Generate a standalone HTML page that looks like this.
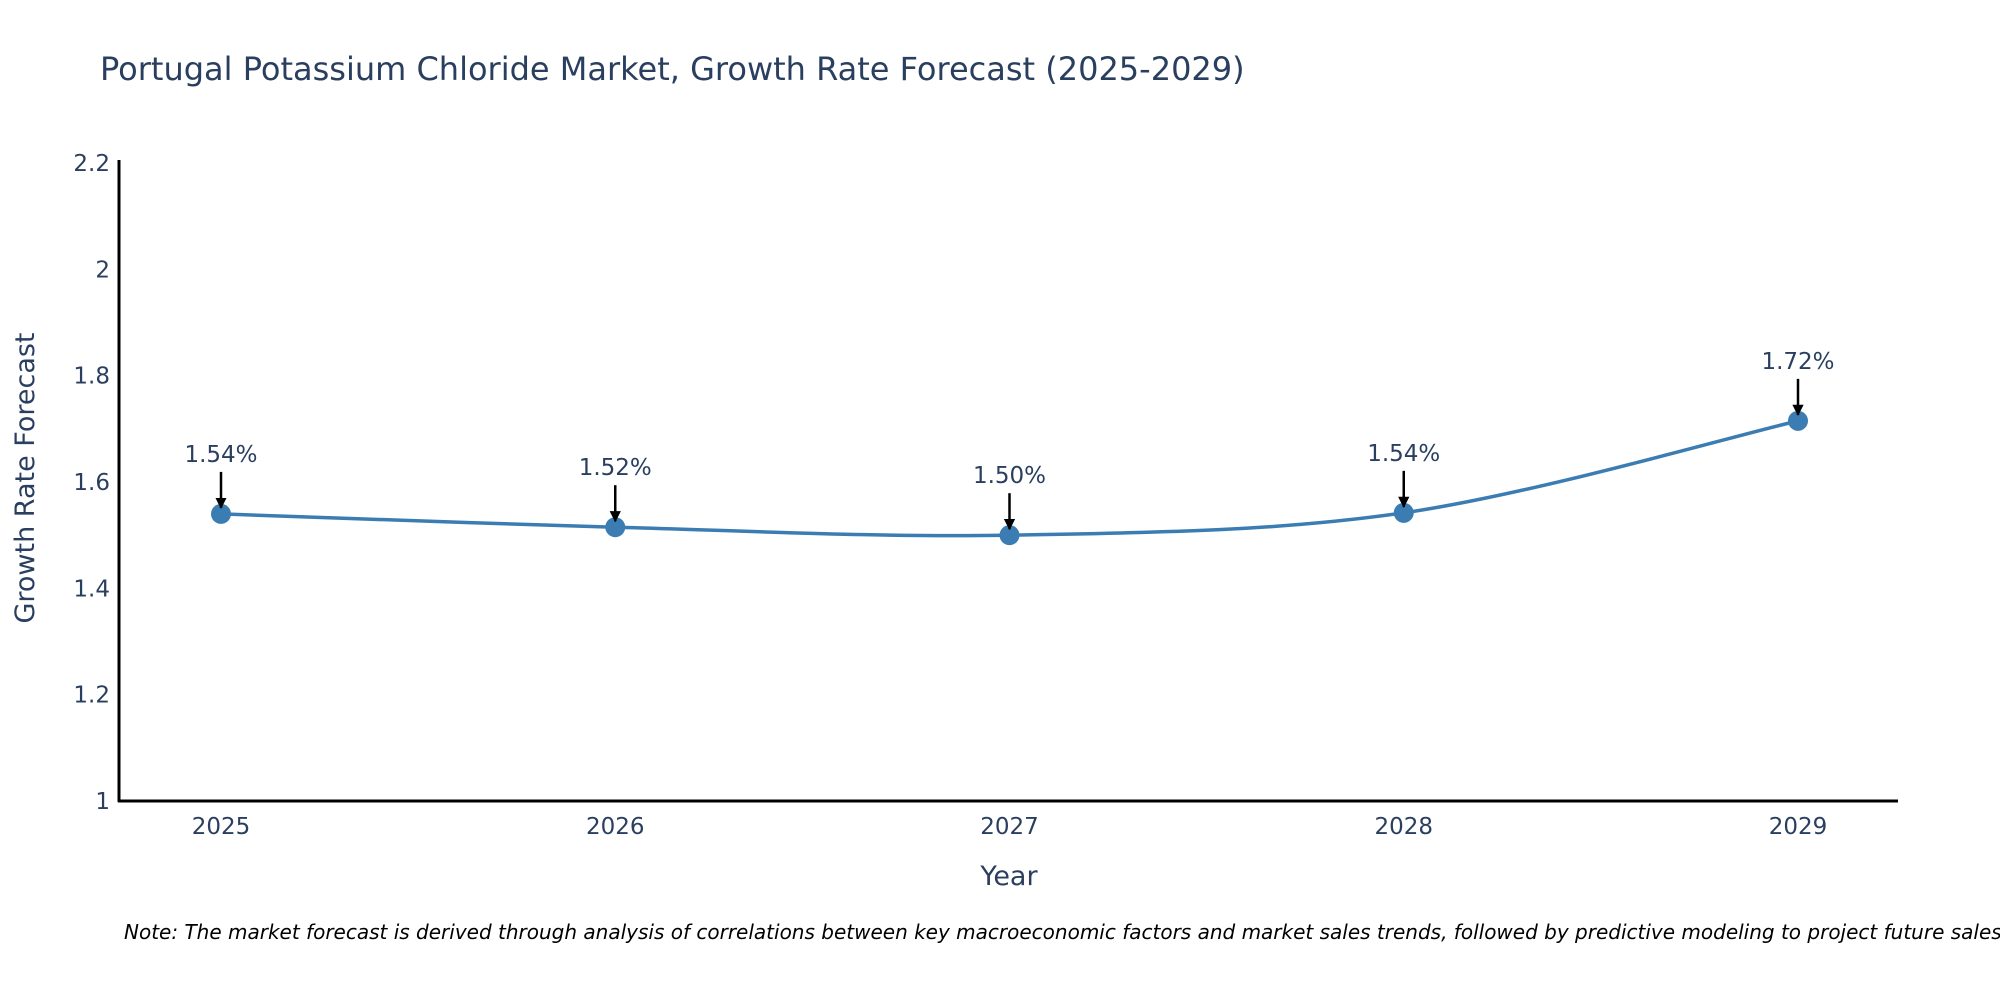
<!DOCTYPE html>
<html><head><meta charset="utf-8">
<style>
html,body{margin:0;padding:0;background:#fff;}
svg{display:block;font-family:"DejaVu Sans","Liberation Sans",sans-serif;}
</style></head>
<body>
<svg id="chart" width="2000" height="1000" viewBox="0 0 2000 1000">
  <defs>
    <marker id="ah" viewBox="0 0 10 10" refX="9" refY="5" markerWidth="4.5" markerHeight="4.5" orient="auto">
      <path d="M0,0 L10,5 L0,10 z" fill="#000"/>
    </marker>
  </defs>
  <rect width="2000" height="1000" fill="#fff"/>
  <text x="100" y="80" font-size="32" fill="#2a3f5f">Portugal Potassium Chloride Market, Growth Rate Forecast (2025-2029)</text>
  <g id="yticks"></g>
  <g id="xticks"></g>
  <line x1="119" y1="160" x2="119" y2="802" stroke="#000" stroke-width="3"/>
  <line x1="118" y1="801" x2="1898" y2="801" stroke="#000" stroke-width="3"/>
  <g id="series"></g>
  <g id="annots"></g>
  <text transform="translate(34,478) rotate(-90)" text-anchor="middle" font-size="27" fill="#2a3f5f">Growth Rate Forecast</text>
  <text x="1009" y="885" text-anchor="middle" font-size="27" fill="#2a3f5f">Year</text>
  <text x="124" y="939" font-size="20" font-style="italic" fill="#000">Note: The market forecast is derived through analysis of correlations between key macroeconomic factors and market sales trends, followed by predictive modeling to project future sales.</text>
</svg>
<script>
const years = ["2025","2026","2027","2028","2029"];
const values = [1.54, 1.515, 1.50, 1.542, 1.715];
const labels = ["1.54%","1.52%","1.50%","1.54%","1.72%"];
const yTicks = [1, 1.2, 1.4, 1.6, 1.8, 2, 2.2];
const yTickLabels = ["1","1.2","1.4","1.6","1.8","2","2.2"];

const NS = "http://www.w3.org/2000/svg";
function yS(v){ return 801 - (v - 1) / 1.2 * (801 - 163); }
function xS(i){ return 221 + i * (1798 - 221) / (years.length - 1); }
function mk(tag, attrs, parent){
  const e = document.createElementNS(NS, tag);
  for (const k in attrs) e.setAttribute(k, attrs[k]);
  parent.appendChild(e);
  return e;
}
const yg = document.getElementById('yticks');
yTicks.forEach((t, i) => {
  const e = mk('text', {x: 110, y: yS(t) + 8, 'text-anchor': 'end', 'font-size': 23, fill: '#2a3f5f'}, yg);
  e.textContent = yTickLabels[i];
  
  
});
const xg = document.getElementById('xticks');
years.forEach((y, i) => {
  const e = mk('text', {x: xS(i), y: 834, 'text-anchor': 'middle', 'font-size': 23, fill: '#2a3f5f'}, xg);
  e.textContent = y;
  
  
});
const pts = values.map((v, i) => [xS(i), yS(v)]);
let d = `M${pts[0][0]},${pts[0][1]}`;
for (let i = 0; i < pts.length - 1; i++) {
  const p0 = pts[Math.max(0, i - 1)], p1 = pts[i], p2 = pts[i + 1], p3 = pts[Math.min(pts.length - 1, i + 2)];
  const t = 1/6;
  const c1 = [p1[0] + (p2[0] - p0[0]) * t, p1[1] + (p2[1] - p0[1]) * t];
  const c2 = [p2[0] - (p3[0] - p1[0]) * t, p2[1] - (p3[1] - p1[1]) * t];
  d += ` C${c1[0]},${c1[1]} ${c2[0]},${c2[1]} ${p2[0]},${p2[1]}`;
}
const sg = document.getElementById('series');
const line = mk('path', {d: d, fill: 'none', stroke: '#3b7db3', 'stroke-width': 3.5}, sg);


pts.forEach((p, i) => {
  const c = mk('circle', {cx: p[0], cy: p[1], r: 10, fill: '#3b7db3'}, sg);
  
  
});
const ag = document.getElementById('annots');
pts.forEach((p, i) => {
  const a = mk('line', {x1: p[0], y1: p[1] - 42, x2: p[0], y2: p[1] - 6, stroke: '#000', 'stroke-width': 2.5, 'marker-end': 'url(#ah)'}, ag);
  
  
  const t = mk('text', {x: p[0], y: p[1] - 52, 'text-anchor': 'middle', 'font-size': 23, fill: '#2a3f5f'}, ag);
  t.textContent = labels[i];
  
  
});
</script>
</body></html>
